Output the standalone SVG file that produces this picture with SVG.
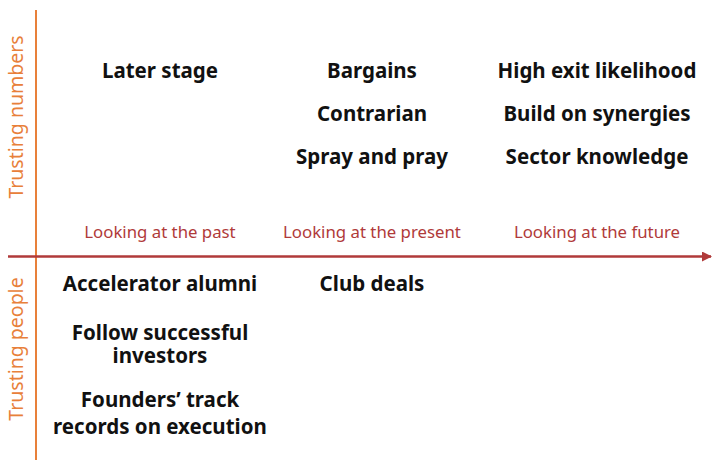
<svg xmlns="http://www.w3.org/2000/svg" width="713" height="460" viewBox="0 0 713 460">
  <defs>
    <marker id="arrow" viewBox="0 0 10 10" refX="9" refY="5" markerWidth="4" markerHeight="4" orient="auto">
      <path d="M0,0 L10,5 L0,10 z" fill="#b03a3a"/>
    </marker>
    <style>
      .item { font-family: "Noto Sans", "Liberation Sans", sans-serif; font-weight: bold; font-size: 20.5px; fill: #111; text-anchor: middle; }
      .time { font-family: "Noto Sans", "Liberation Sans", sans-serif; font-size: 16.8px; fill: #b03a3a; text-anchor: middle; }
      .trust { font-family: "Noto Sans", "Liberation Sans", sans-serif; font-size: 19.5px; fill: #e8803a; text-anchor: middle; }
    </style>
  </defs>
  <rect width="713" height="460" fill="#ffffff"/>

  <!-- axes -->
  <g id="axes">
    <line x1="36" y1="10" x2="36" y2="460" stroke="#e8803a" stroke-width="2"/>
    <line x1="8" y1="256.500" x2="711" y2="256.500" stroke="#b03a3a" stroke-width="2.5" marker-end="url(#arrow)"/>
  </g>

  <!-- axis labels -->
  <g id="trust-labels">
    <text class="trust" transform="translate(23,117) rotate(-90)">Trusting numbers</text>
    <text class="trust" transform="translate(23,349) rotate(-90)">Trusting people</text>
  </g>
  <g id="time-labels">
    <text class="time" x="160" y="238">Looking at the past</text>
    <text class="time" x="372" y="238">Looking at the present</text>
    <text class="time" x="597" y="238">Looking at the future</text>
  </g>

  <!-- trusting numbers quadrant -->
  <g id="past-numbers">
    <text class="item" x="160" y="78">Later stage</text>
  </g>
  <g id="present-numbers">
    <text class="item" x="372" y="78">Bargains</text>
    <text class="item" x="372" y="121">Contrarian</text>
    <text class="item" x="372" y="164">Spray and pray</text>
  </g>
  <g id="future-numbers">
    <text class="item" x="597" y="78">High exit likelihood</text>
    <text class="item" x="597" y="121">Build on synergies</text>
    <text class="item" x="597" y="164">Sector knowledge</text>
  </g>

  <!-- trusting people quadrant -->
  <g id="past-people">
    <text class="item" x="160" y="291">Accelerator alumni</text>
    <text class="item" x="160" y="340">Follow successful</text>
    <text class="item" x="160" y="363">investors</text>
    <text class="item" x="160" y="407">Founders’ track</text>
    <text class="item" x="160" y="434">records on execution</text>
  </g>
  <g id="present-people">
    <text class="item" x="372" y="291">Club deals</text>
  </g>
</svg>
